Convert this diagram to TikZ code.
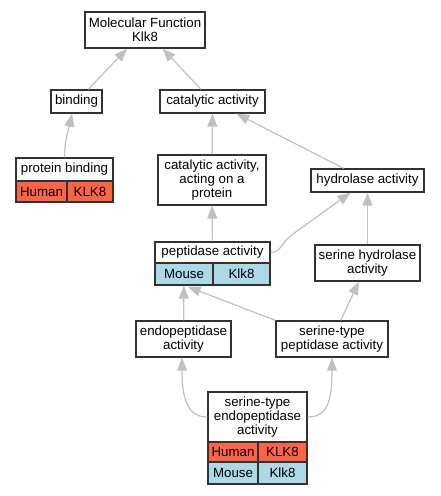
\documentclass[tikz,border=0pt]{standalone}
\usepackage{fontspec}
\setmainfont{Liberation Sans}
\usetikzlibrary{arrows.meta,calc}
\definecolor{bordercol}{RGB}{50,50,50}
\definecolor{edgecol}{RGB}{192,192,192}
\definecolor{humancol}{RGB}{255,99,71}
\definecolor{mousecol}{RGB}{173,216,230}
\tikzset{
  box/.style={draw=bordercol, line width=1.3pt, fill=white, inner sep=0pt, align=center,
    font=\fontsize{13.3}{13.8}\selectfont},
  hcell/.style={box, fill=humancol},
  mcell/.style={box, fill=mousecol},
  edge/.style={draw=edgecol, line width=1.2pt, -{Triangle[length=13pt,width=10pt]}}
}
\begin{document}
\begin{tikzpicture}[x=1pt,y=-1pt]
\useasboundingbox (0,0) rectangle (440,496);
% nodes
\node[box, minimum width=120pt, minimum height=36pt] (mf) at (145,30) {Molecular Function\\Klk8};
\node[box, minimum width=51pt, minimum height=23pt] (bind) at (76.5,101.5) {binding};
\node[box, minimum width=105pt, minimum height=23pt] (cat) at (212.5,101.5) {catalytic activity};
\node[box, minimum width=97pt, minimum height=23pt] (pb) at (64.5,169.5) {protein binding};
\node[hcell, minimum width=51pt, minimum height=21pt] (pbH) at (41.5,191.5) {Human};
\node[hcell, minimum width=46pt, minimum height=21pt] (pbK) at (90,191.5) {KLK8};
\node[box, minimum width=108pt, minimum height=50pt] (catact) at (212,180) {catalytic activity,\\acting on a\\protein};
\node[box, minimum width=113pt, minimum height=23pt] (hyd) at (367.5,180.5) {hydrolase activity};
\node[box, minimum width=115pt, minimum height=21pt] (pep) at (212.5,252.5) {peptidase activity};
\node[mcell, minimum width=58pt, minimum height=22pt] (pepM) at (184,274) {Mouse};
\node[mcell, minimum width=57pt, minimum height=22pt] (pepK) at (241.5,274) {Klk8};
\node[box, minimum width=105pt, minimum height=36pt] (shyd) at (367.5,263) {serine hydrolase\\activity};
\node[box, minimum width=95pt, minimum height=36pt] (endo) at (183.5,339) {endopeptidase\\activity};
\node[box, minimum width=112pt, minimum height=36pt] (stp) at (332,339) {serine-type\\peptidase activity};
\node[box, minimum width=99pt, minimum height=50pt] (ste) at (257.5,417) {serine-type\\endopeptidase\\activity};
\node[hcell, minimum width=50pt, minimum height=20pt] (steH) at (233,452) {Human};
\node[hcell, minimum width=49pt, minimum height=20pt] (steHK) at (282.5,452) {KLK8};
\node[mcell, minimum width=50pt, minimum height=22pt] (steM) at (233,473) {Mouse};
\node[mcell, minimum width=49pt, minimum height=22pt] (steMK) at (282.5,473) {Klk8};
% edges
\draw[edge] (bind) -- (mf);
\draw[edge] (cat) -- (mf);
\draw[edge] (pb.north) .. controls (64.5,140) and (69,128) .. ($(bind.south)+(-4.5,0)$);
\draw[edge] (catact) -- (cat);
\draw[edge] (hyd) -- (cat);
\draw[edge] (pep) -- (catact);
\draw[edge] (pep.east) .. controls (282,252) and (280,243) .. (293,234) -- ($(hyd.south)+(-17,0)$);
\draw[edge] (shyd) -- (hyd);
\draw[edge] (endo) -- (pepM);
\draw[edge] (stp.north west) -- ($(pepM.south east)+(-26,1)$);
\draw[edge] (stp) -- (shyd);
\draw[edge] (ste.west) .. controls (188,417) and (182,400) .. ($(endo.south)+(-1.5,0)$);
\draw[edge] (ste.east) .. controls (328,417) and (332,400) .. (stp.south);
\end{tikzpicture}
\end{document}
